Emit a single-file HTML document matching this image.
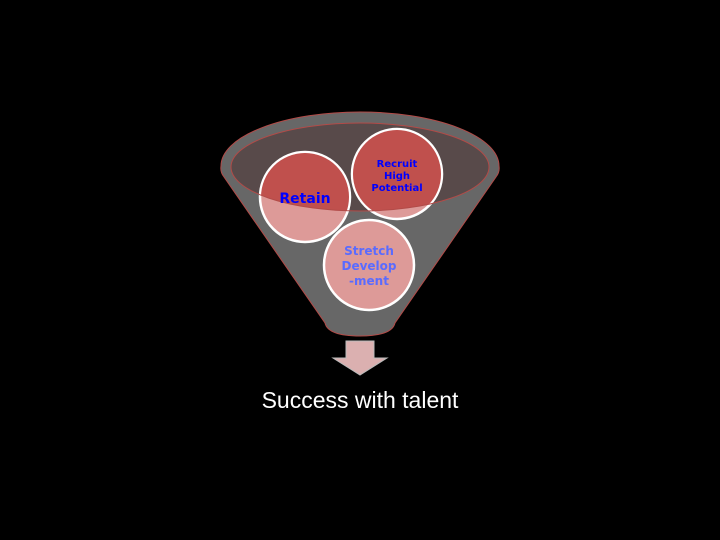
<!DOCTYPE html>
<html><head><meta charset="utf-8"><style>
html,body{margin:0;padding:0;background:#000;width:720px;height:540px;overflow:hidden}
</style></head><body>
<svg width="720" height="540" viewBox="0 0 720 540" xmlns="http://www.w3.org/2000/svg">
<defs>
<clipPath id="inner"><ellipse cx="360" cy="167" rx="129" ry="44"/></clipPath>
</defs>
<rect width="720" height="540" fill="#000"/>
<path d="M221,166 A139,54 0 0 1 499,166 Q500,172 496,177 L395,323 Q392,336 360,336 Q328,336 325,323 L224,177 Q220,172 221,166 Z" fill="#676767" stroke="#b24b48" stroke-width="1"/>
<ellipse cx="360" cy="167" rx="129" ry="44" fill="#584a4a"/>
<g stroke="#fff" stroke-width="2.5">
<circle cx="305" cy="197" r="45" fill="#dd9a98"/>
<circle cx="397" cy="174" r="45" fill="#dd9a98"/>
<circle cx="369" cy="265" r="45" fill="#dd9a98"/>
</g>
<g clip-path="url(#inner)">
<circle cx="305" cy="197" r="44" fill="#c0504d"/>
<circle cx="397" cy="174" r="44" fill="#c0504d"/>
</g>
<ellipse cx="360" cy="167" rx="129" ry="44" fill="none" stroke="#b24b48" stroke-width="1"/>
<g font-family="DejaVu Sans, sans-serif" font-weight="bold" text-anchor="middle">
<text x="305" y="203" font-size="14" fill="#0000ff">Retain</text>
<text x="397" y="167" font-size="10" fill="#0000ff">Recruit</text>
<text x="397" y="179" font-size="10" fill="#0000ff">High</text>
<text x="397" y="191" font-size="10" fill="#0000ff">Potential</text>
<text x="369" y="255" font-size="12" fill="#5a6bff">Stretch</text>
<text x="369" y="270" font-size="12" fill="#5a6bff">Develop</text>
<text x="369" y="285" font-size="12" fill="#5a6bff">-ment</text>
</g>
<path d="M346,341 L374,341 L374,358 L387,358 L360,375 L333,358 L346,358 Z" fill="#dbb0b0" stroke="#bbb" stroke-width="1"/>
<text x="360" y="408" font-family="Liberation Sans, sans-serif" font-size="23" fill="#fff" text-anchor="middle">Success with talent</text>
</svg>
</body></html>
